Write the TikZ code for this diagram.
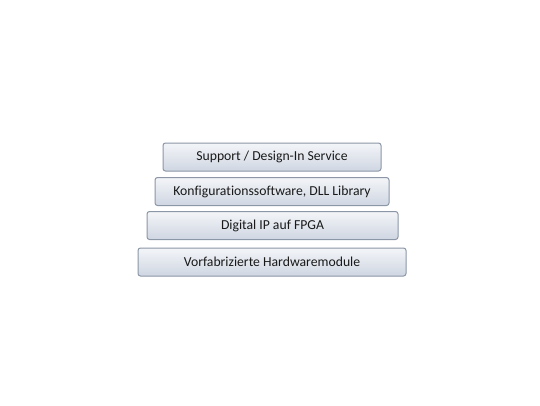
\documentclass[tikz,border=0pt]{standalone}
\usepackage{fontspec}
\setmainfont{Carlito}[Ligatures=NoCommon]
\usepackage{tikz}
\usetikzlibrary{positioning}
\definecolor{layertop}{HTML}{F3F5F8}
\definecolor{layerbot}{HTML}{CFD6E2}
\definecolor{layerline}{HTML}{8B96A6}

\begin{document}
\begin{tikzpicture}[x=1pt, y=-1pt, every node/.style={draw=layerline, line width=1pt, rounded corners=2.5pt, top color=layertop, bottom color=layerbot, minimum height=28pt, inner sep=0pt, font=\fontsize{13.7}{15}\selectfont, text=black!90}]
\useasboundingbox (0,0) rectangle (540,405);
\node[minimum width=218pt] (support) at (272,157) {Support / Design-In Service};
\node[minimum width=234pt] (config) at (272,191.5) {Konfigurationssoftware, DLL Library};
\node[minimum width=251pt] (ip) at (272.5,225.5) {Digital IP auf FPGA};
\node[minimum width=268pt] (hw) at (272,262) {Vorfabrizierte Hardwaremodule};

\end{tikzpicture}
\end{document}
